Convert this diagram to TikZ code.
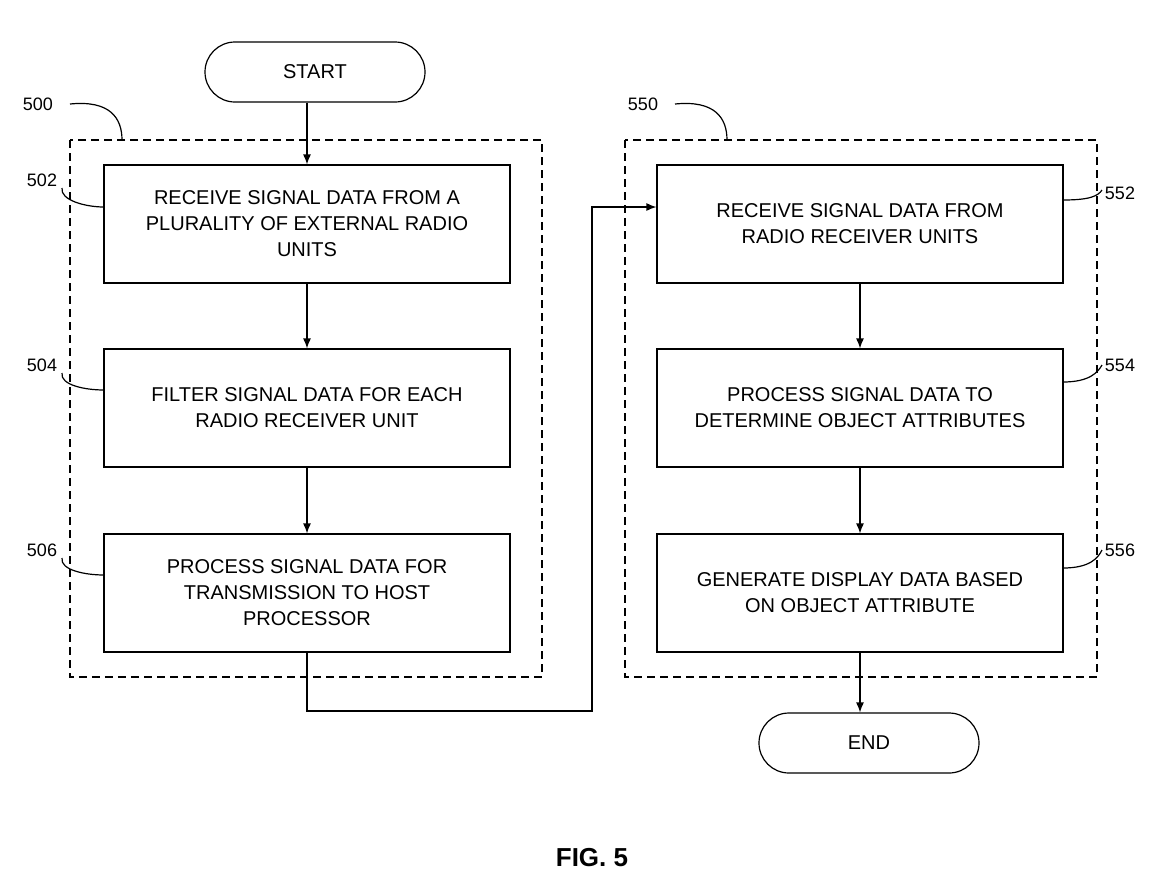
\documentclass[tikz,border=0pt]{standalone}
\usepackage{fontspec}
\setmainfont{Liberation Sans}
\usetikzlibrary{arrows.meta}
\begin{document}
\begin{tikzpicture}[x=0.5pt,y=-0.5pt,
 box/.style={draw,line width=0.6pt,minimum width=203pt,minimum height=59pt,align=center,font=\fontsize{10}{13}\selectfont},
 term/.style={draw,line width=0.6pt,rounded corners=15pt,minimum width=110pt,minimum height=30pt,font=\fontsize{10}{13}\selectfont},
 grp/.style={draw,dash pattern=on 4pt off 2.5pt,line width=0.6pt},
 lbl/.style={font=\fontsize{9}{11}\selectfont},
 lead/.style={line width=0.6pt},
 arr/.style={line width=0.6pt,-{Latex[length=5pt,width=4pt]}}]
\useasboundingbox (0,0) rectangle (1169,891);
\draw[grp] (70,140) rectangle (542,677);
\draw[grp] (625,140) rectangle (1097,677);
\node[term] (start) at (315,72) {START};
\node[term] (end) at (869,743) {END};
\node[box] (b502) at (307,224) {RECEIVE SIGNAL DATA FROM A\\PLURALITY OF EXTERNAL RADIO\\UNITS};
\node[box] (b504) at (307,408) {FILTER SIGNAL DATA FOR EACH\\RADIO RECEIVER UNIT};
\node[box] (b506) at (307,593) {PROCESS SIGNAL DATA FOR\\TRANSMISSION TO HOST\\PROCESSOR};
\node[box] (b552) at (860,224) {RECEIVE SIGNAL DATA FROM\\RADIO RECEIVER UNITS};
\node[box] (b554) at (860,408) {PROCESS SIGNAL DATA TO\\DETERMINE OBJECT ATTRIBUTES};
\node[box] (b556) at (860,593) {GENERATE DISPLAY DATA BASED\\ON OBJECT ATTRIBUTE};
\draw[arr] (start.south -| b502.north) -- (b502.north);
\draw[arr] (b502) -- (b504);
\draw[arr] (b504) -- (b506);
\coordinate (c1) at (307,711);
\coordinate (c2) at (592,711);
\coordinate (c3) at (592,207);
\draw[arr] (b506.south) -- (c1) -- (c2) -- (c3) -- (c3 -| b552.west);
\draw[arr] (b552) -- (b554);
\draw[arr] (b554) -- (b556);
\draw[arr] (b556.south) -- (end.north -| b556.south);
\node[lbl] (l500) at (38,104) {500};
\draw[lead] (70,104) .. controls (110,100) and (122,118) .. (122,140);
\node[lbl] (l550) at (643,104) {550};
\draw[lead] (675,104) .. controls (715,100) and (727,118) .. (727,140);
\node[lbl] (l502) at (42,180) {502};
\draw[lead] (62,188) .. controls (60,200) and (85,207) .. (104,207);
\node[lbl] (l504) at (42,365) {504};
\draw[lead] (62,373) .. controls (60,385) and (85,390) .. (104,390);
\node[lbl] (l506) at (42,550) {506};
\draw[lead] (62,558) .. controls (60,570) and (85,575) .. (104,575);
\node[lbl] (l552) at (1120,193) {552};
\draw[lead] (1063,200) .. controls (1090,200) and (1098,196) .. (1102,190);
\node[lbl] (l554) at (1120,365) {554};
\draw[lead] (1063,382) .. controls (1090,382) and (1098,372) .. (1102,365);
\node[lbl] (l556) at (1120,550) {556};
\draw[lead] (1063,568) .. controls (1090,568) and (1098,558) .. (1102,550);
\node[font=\fontsize{13}{15}\selectfont\bfseries] (fig) at (592,858) {FIG. 5};
\end{tikzpicture}
\end{document}
